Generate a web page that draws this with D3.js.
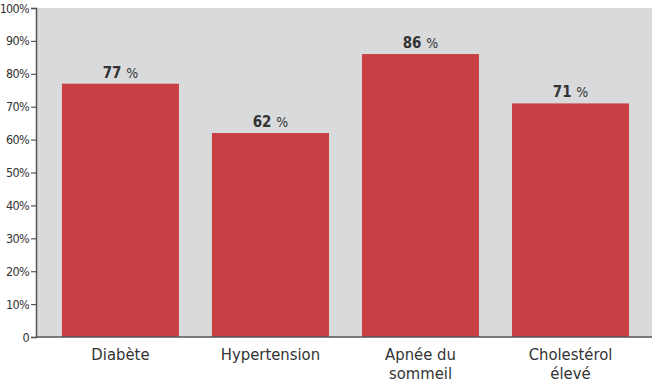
<!DOCTYPE html>
<html><head><meta charset="utf-8">
<script src="https://cdn.jsdelivr.net/npm/d3@7"></script>
<style>body{margin:0;background:#fff}svg{display:block}</style>
</head><body>
<script>
const categories = [["Diabète"], ["Hypertension"], ["Apnée du", "sommeil"], ["Cholestérol", "élevé"]];
const values = [77, 62, 86, 71];
const tickValues = [0, 10, 20, 30, 40, 50, 60, 70, 80, 90, 100];

const W = 665, H = 382;
const m = {left: 36, right: 13, top: 8, bottom: 45};
const svg = d3.select("body").append("svg").attr("width", W).attr("height", H);
const font = "'DejaVu Sans Condensed', 'Roboto', sans-serif";

const x = d3.scaleBand().domain(d3.range(categories.length))
  .range([m.left, W - m.right]).paddingInner(0.22).paddingOuter(0.163).align(0.53);
const y = d3.scaleLinear().domain([0, 100]).range([H - m.bottom, m.top]);

svg.append("rect").attr("x", m.left).attr("y", m.top)
  .attr("width", W - m.right - m.left).attr("height", H - m.bottom - m.top)
  .attr("fill", "#d9dadc");

svg.selectAll(".bar").data(values).join("rect")
  .attr("x", (d, i) => x(i)).attr("width", x.bandwidth())
  .attr("y", d => y(d)).attr("height", d => y(0) - y(d))
  .attr("fill", "#c84044");

const vl = svg.selectAll(".val").data(values).join("text")
  .attr("x", (d, i) => x(i) + x.bandwidth() / 2).attr("y", d => y(d) - 6)
  .attr("text-anchor", "middle").attr("font-family", font)
  .attr("fill", "#333");
vl.append("tspan").attr("font-size", 15).attr("font-weight", "bold").text(d => d + " ");
vl.append("tspan").attr("font-size", 14).text("%");

const yAxis = svg.append("g").attr("transform", `translate(${m.left},0)`)
  .call(d3.axisLeft(y).tickValues(tickValues).tickSize(5).tickPadding(2)
    .tickFormat(d => d === 0 ? "0" : d + "%"));
yAxis.select(".domain").attr("stroke", "#555").attr("stroke-width", 1.5);
yAxis.selectAll(".tick line").attr("stroke", "#555").attr("stroke-width", 1.2);
yAxis.selectAll(".tick text").attr("font-family", font).attr("font-size", 12.5)
  .attr("fill", "#333").attr("letter-spacing", "-0.7px");

svg.append("line").attr("x1", m.left).attr("x2", W - m.right)
  .attr("y1", y(0)).attr("y2", y(0)).attr("stroke", "#555").attr("stroke-width", 1.5);

const lab = svg.selectAll(".cat").data(categories).join("text")
  .attr("text-anchor", "middle").attr("font-family", font)
  .attr("font-size", 16.5).attr("fill", "#333");
lab.each(function (lines, i) {
  d3.select(this).selectAll("tspan").data(lines).join("tspan")
    .attr("x", x(i) + x.bandwidth() / 2)
    .attr("y", (l, j) => y(0) + 23 + j * 19)
    .text(l => l);
});
</script>
</body></html>
